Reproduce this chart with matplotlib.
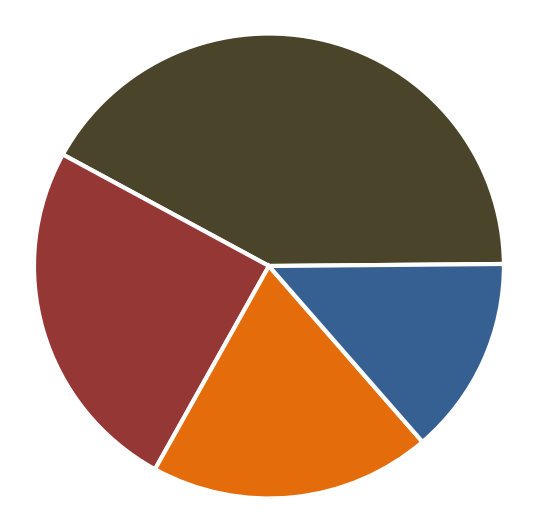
import matplotlib
matplotlib.use("Agg")
import matplotlib.pyplot as plt

labels = ["Olive", "Red", "Orange", "Blue"]
values = [41.9, 24.9, 19.4, 13.8]
colors = ["#4A452A", "#953735", "#E46C0A", "#376092"]

fig = plt.figure(figsize=(5.42, 5.32), dpi=100)
ax = fig.add_axes([0.0627, 0.063, 0.867, 0.874])
ax.pie(values, colors=colors, startangle=0.5, counterclock=True,
       wedgeprops=dict(edgecolor="white", linewidth=3))
ax.set_xlim(-1, 1)
ax.set_ylim(-1, 1)
ax.set_aspect("auto")
ax.axis("off")
fig.savefig("out.png", dpi=100)
